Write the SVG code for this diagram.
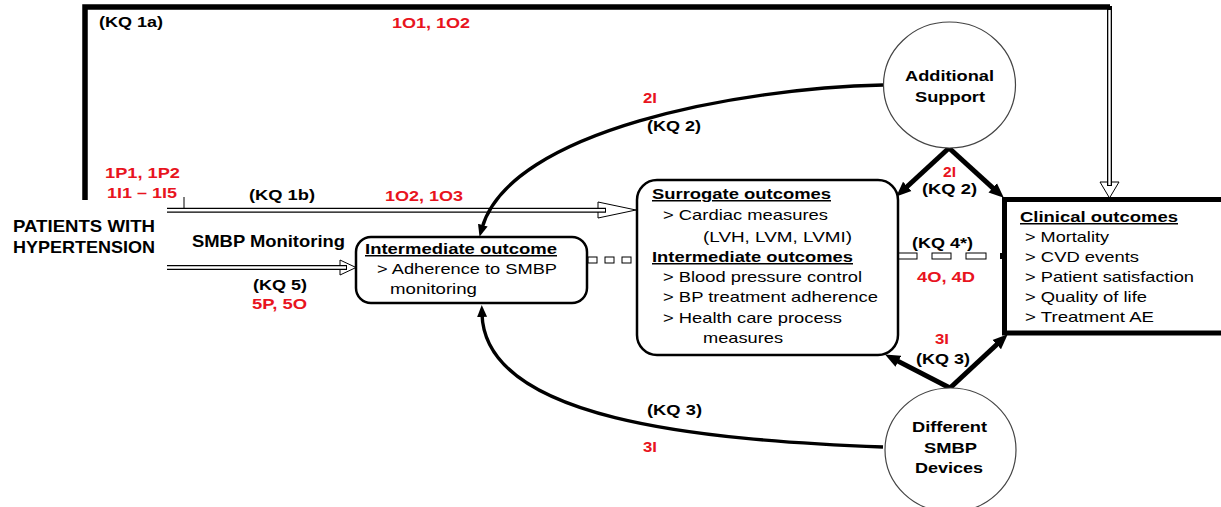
<svg xmlns="http://www.w3.org/2000/svg" width="1221" height="507" viewBox="0 0 1221 507">
<style>
text { font-family: "Liberation Sans", Arial, sans-serif; font-size: 15px; fill: #000; }
.b { font-weight: bold; }
.r { font-weight: bold; fill: #e8141e; }
.u { font-weight: bold; text-decoration: underline; }
.big { font-weight: bold; font-size: 16.5px; }
.box { fill: #fff; stroke: #000; stroke-width: 2.5; }
.circ { fill: #fff; stroke: #444; stroke-width: 1.2; }
.thick { fill: none; stroke: #000; stroke-width: 5; }
.curve { fill: none; stroke: #000; stroke-width: 3.4; }
.dblo { fill: none; stroke: #000; stroke-width: 5; }
.dbli { fill: none; stroke: #fff; stroke-width: 2.4; }
.hollow { fill: #fff; stroke: #000; stroke-width: 1; }
.dash { fill: #fff; stroke: #000; stroke-width: 1; }
</style>
<defs>
<marker id="ah" viewBox="0 0 12 10" refX="3" refY="5" markerWidth="15" markerHeight="14" markerUnits="userSpaceOnUse" orient="auto">
<path d="M0,0 L12,5 L0,10 z" fill="#000"/>
</marker>
<marker id="ahc" viewBox="0 0 12 10" refX="3" refY="5" markerWidth="12" markerHeight="17" markerUnits="userSpaceOnUse" orient="auto">
<path d="M0,0 L12,5 L0,10 z" fill="#000"/>
</marker>
</defs>
<rect width="1221" height="507" fill="#fff"/>

<g id="connectors">
<polyline points="85,200 85,7 1110,7" fill="none" stroke="#000" stroke-width="5.5"/>
<polygon class="hollow" points="1100,182 1119,182 1109.5,198"/>
<line class="dblo" x1="1109.5" y1="6" x2="1109.5" y2="186"/>
<line class="dbli" x1="1109.5" y1="10" x2="1109.5" y2="185"/>
<line x1="184" y1="197" x2="184" y2="210" stroke="#000" stroke-width="1"/>
<polygon class="hollow" points="598,202 598,218 636,210"/>
<line class="dblo" x1="167" y1="210.3" x2="606" y2="210.3"/>
<line class="dbli" x1="167" y1="210.3" x2="605" y2="210.3"/>
<polygon class="hollow" points="340,260 340,275 356,267.5"/>
<line class="dblo" x1="167" y1="267.5" x2="347" y2="267.5"/>
<line class="dbli" x1="167" y1="267.5" x2="346" y2="267.5"/>
<rect class="dash" x="588" y="257" width="9" height="6"/>
<rect class="dash" x="605" y="257" width="9" height="6"/>
<rect class="dash" x="622" y="257" width="9" height="6"/>
<rect class="dash" x="898" y="253" width="19" height="6"/>
<rect class="dash" x="932" y="253" width="19" height="6"/>
<rect class="dash" x="966" y="253" width="20" height="6"/>
<rect x="1000" y="253" width="5" height="6" fill="#000"/>
<path class="curve" d="M883,85 C740,88 510,130 482,228" marker-end="url(#ahc)"/>
<path class="curve" d="M883,447 C700,440 485,420 482,314" marker-end="url(#ahc)"/>
<line class="thick" x1="949" y1="148" x2="904.5" y2="189" marker-end="url(#ah)"/>
<line class="thick" x1="949" y1="148" x2="995.5" y2="190.3" marker-end="url(#ah)"/>
<line class="thick" x1="950" y1="388" x2="895" y2="359.6" marker-end="url(#ah)"/>
<line class="thick" x1="950" y1="388" x2="999.5" y2="342" marker-end="url(#ah)"/>
</g>

<g id="labels">
<text class="b" x="99" y="27" textLength="64" lengthAdjust="spacingAndGlyphs">(KQ 1a)</text>
<text class="r" x="392" y="28" textLength="78" lengthAdjust="spacingAndGlyphs">1O1, 1O2</text>
<text class="r" x="105" y="178" textLength="75" lengthAdjust="spacingAndGlyphs">1P1, 1P2</text>
<text class="r" x="107" y="198" textLength="70" lengthAdjust="spacingAndGlyphs">1I1 – 1I5</text>
<text class="b" x="249" y="200" textLength="66" lengthAdjust="spacingAndGlyphs">(KQ 1b)</text>
<text class="r" x="385" y="201" textLength="78" lengthAdjust="spacingAndGlyphs">1O2, 1O3</text>
<text class="big" x="192" y="247" style="font-size:17px" textLength="153" lengthAdjust="spacingAndGlyphs">SMBP Monitoring</text>
<text class="b" x="253" y="290" textLength="54" lengthAdjust="spacingAndGlyphs">(KQ 5)</text>
<text class="r" x="252" y="309" textLength="55" lengthAdjust="spacingAndGlyphs">5P, 5O</text>
<text class="r" x="643" y="103" textLength="14" lengthAdjust="spacingAndGlyphs">2I</text>
<text class="b" x="647" y="131" textLength="54" lengthAdjust="spacingAndGlyphs">(KQ 2)</text>
<text class="b" x="647" y="415" textLength="55" lengthAdjust="spacingAndGlyphs">(KQ 3)</text>
<text class="r" x="643" y="452" textLength="14" lengthAdjust="spacingAndGlyphs">3I</text>
<text class="r" x="943" y="177" textLength="13" lengthAdjust="spacingAndGlyphs">2I</text>
<text class="b" x="922" y="194" textLength="55" lengthAdjust="spacingAndGlyphs">(KQ 2)</text>
<text class="b" x="912" y="248" textLength="61" lengthAdjust="spacingAndGlyphs">(KQ 4*)</text>
<text class="r" x="917" y="282" textLength="58" lengthAdjust="spacingAndGlyphs">4O, 4D</text>
<text class="r" x="935" y="344" textLength="14" lengthAdjust="spacingAndGlyphs">3I</text>
<text class="b" x="916" y="364" textLength="54" lengthAdjust="spacingAndGlyphs">(KQ 3)</text>
</g>

<g id="patients">
<text class="big" x="13" y="232" textLength="142" lengthAdjust="spacingAndGlyphs">PATIENTS WITH</text>
<text class="big" x="13" y="253" textLength="142" lengthAdjust="spacingAndGlyphs">HYPERTENSION</text>
</g>

<g id="intermediate-outcome">
<rect class="box" x="356" y="237" width="231" height="66" rx="15" ry="15"/>
<text class="u" x="365" y="254" textLength="192" lengthAdjust="spacingAndGlyphs">Intermediate outcome</text>
<text x="377" y="274" textLength="180" lengthAdjust="spacingAndGlyphs">&gt; Adherence to SMBP</text>
<text x="390" y="294" textLength="87" lengthAdjust="spacingAndGlyphs">monitoring</text>
</g>

<g id="surrogate-outcomes">
<rect class="box" x="637" y="180" width="261" height="175" rx="20" ry="20"/>
<text class="u" x="652" y="199" textLength="179" lengthAdjust="spacingAndGlyphs">Surrogate outcomes</text>
<text x="663" y="220" textLength="165" lengthAdjust="spacingAndGlyphs">&gt; Cardiac measures</text>
<text x="703" y="242" textLength="149" lengthAdjust="spacingAndGlyphs">(LVH, LVM, LVMI)</text>
<text class="u" x="652" y="262" textLength="201" lengthAdjust="spacingAndGlyphs">Intermediate outcomes</text>
<text x="663" y="282" textLength="199" lengthAdjust="spacingAndGlyphs">&gt; Blood pressure control</text>
<text x="663" y="302" textLength="215" lengthAdjust="spacingAndGlyphs">&gt; BP treatment adherence</text>
<text x="663" y="323" textLength="179" lengthAdjust="spacingAndGlyphs">&gt; Health care process</text>
<text x="703" y="343" textLength="80" lengthAdjust="spacingAndGlyphs">measures</text>
</g>

<g id="clinical-outcomes">
<rect x="1004.5" y="199.5" width="240" height="133.5" fill="#fff" stroke="#000" stroke-width="5"/>
<text class="u" x="1020" y="222" textLength="158" lengthAdjust="spacingAndGlyphs">Clinical outcomes</text>
<text x="1025" y="242" textLength="84" lengthAdjust="spacingAndGlyphs">&gt; Mortality</text>
<text x="1025" y="262" textLength="114" lengthAdjust="spacingAndGlyphs">&gt; CVD events</text>
<text x="1025" y="282" textLength="169" lengthAdjust="spacingAndGlyphs">&gt; Patient satisfaction</text>
<text x="1025" y="302" textLength="122" lengthAdjust="spacingAndGlyphs">&gt; Quality of life</text>
<text x="1025" y="322" textLength="129" lengthAdjust="spacingAndGlyphs">&gt; Treatment AE</text>
</g>

<g id="additional-support">
<ellipse class="circ" cx="949.5" cy="85" rx="66" ry="63"/>
<text class="b" x="905" y="81" textLength="89" lengthAdjust="spacingAndGlyphs">Additional</text>
<text class="b" x="915" y="102" textLength="70" lengthAdjust="spacingAndGlyphs">Support</text>
</g>

<g id="different-devices">
<ellipse class="circ" cx="950.5" cy="450" rx="65.5" ry="62"/>
<text class="b" x="912" y="432" textLength="75" lengthAdjust="spacingAndGlyphs">Different</text>
<text class="b" x="924" y="453" textLength="53" lengthAdjust="spacingAndGlyphs">SMBP</text>
<text class="b" x="915" y="473" textLength="68" lengthAdjust="spacingAndGlyphs">Devices</text>
</g>
</svg>
